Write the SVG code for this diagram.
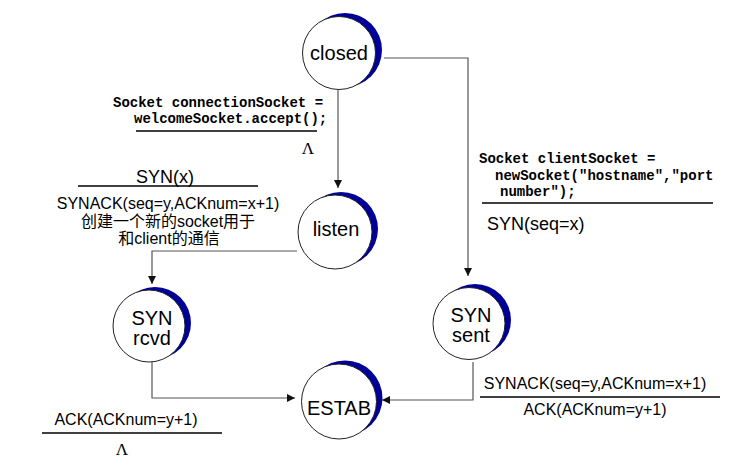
<svg xmlns="http://www.w3.org/2000/svg" width="754" height="473" viewBox="0 0 754 473">
  <defs>
    <marker id="arrow" viewBox="0 0 10 10" refX="10" refY="5" markerWidth="8" markerHeight="8" markerUnits="userSpaceOnUse" orient="auto">
      <path d="M0,0 L10,5 L0,10 z" fill="#111"/>
    </marker>
    <style>
      .shade { fill: #000099; }
      .disc { fill: #fff; stroke: #222; stroke-width: 1; }
      .state { font-family: "Liberation Sans", Arial, sans-serif; font-size: 20px; fill: #000; text-anchor: middle; }
      .lbl { font-family: "Liberation Sans", Arial, "Noto Sans CJK SC", sans-serif; font-size: 16px; fill: #000; }
      .big { font-family: "Liberation Sans", Arial, sans-serif; font-size: 18px; fill: #000; }
      .code { font-family: "Liberation Mono", "Courier New", monospace; font-size: 14px; font-weight: bold; fill: #000; }
      .lam { font-family: "Liberation Serif", "Times New Roman", serif; font-size: 17px; fill: #000; text-anchor: middle; }
      .rule { stroke: #000; stroke-width: 1.3; }
      .edge { fill: none; stroke: #555; stroke-width: 1.2; marker-end: url(#arrow); }
    </style>
  </defs>

  <rect width="754" height="473" fill="#fff"/>

  <!-- transitions -->
  <g id="connectors">
    <path class="edge" d="M338,90 V188"/>
    <path class="edge" d="M384,58 H468 V276"/>
    <path class="edge" d="M297,251 H152 V284"/>
    <path class="edge" d="M152,362 V398 H295"/>
    <path class="edge" d="M473,362 V400 H382"/>
  </g>

  <!-- states -->
  <g id="closed">
    <circle class="shade" cx="345" cy="50" r="37"/>
    <circle class="disc" cx="339" cy="53" r="36.5"/>
    <text class="state" x="339" y="60" font-size="21">closed</text>
  </g>
  <g id="listen">
    <circle class="shade" cx="341" cy="229" r="37"/>
    <circle class="disc" cx="335" cy="232" r="37"/>
    <text class="state" x="336" y="236">listen</text>
  </g>
  <g id="syn-rcvd">
    <circle class="shade" cx="155" cy="323" r="36"/>
    <circle class="disc" cx="149" cy="326" r="36"/>
    <text class="state" x="152" y="325">SYN</text>
    <text class="state" x="152" y="345">rcvd</text>
  </g>
  <g id="syn-sent">
    <circle class="shade" cx="475" cy="320" r="36"/>
    <circle class="disc" cx="469" cy="323.5" r="36"/>
    <text class="state" x="471" y="322">SYN</text>
    <text class="state" x="471" y="342">sent</text>
  </g>
  <g id="estab">
    <circle class="shade" cx="345" cy="398" r="37.5"/>
    <circle class="disc" cx="339" cy="401.5" r="37.5"/>
    <text class="state" x="339" y="415">ESTAB</text>
  </g>

  <!-- transition labels -->
  <g id="label-accept">
    <text class="code" x="113" y="107">Socket connectionSocket =</text>
    <text class="code" x="134" y="123">welcomeSocket.accept();</text>
    <line class="rule" x1="136" y1="131" x2="317" y2="131"/>
    <text class="lam" x="308" y="154">Λ</text>
  </g>
  <g id="label-synx">
    <text class="big" x="165" y="183" text-anchor="middle">SYN(x)</text>
    <line class="rule" x1="78" y1="186" x2="258" y2="186"/>
    <text class="lbl" x="168" y="209" text-anchor="middle" font-size="15.8">SYNACK(seq=y,ACKnum=x+1)</text>
    <text class="lbl" x="168" y="227" text-anchor="middle">创建一个新的socket用于</text>
    <text class="lbl" x="169" y="244" text-anchor="middle">和client的通信</text>
  </g>
  <g id="label-client">
    <text class="code" x="479" y="163">Socket clientSocket =</text>
    <text class="code" x="495" y="180">newSocket("hostname","port</text>
    <text class="code" x="500" y="196">number");</text>
    <line class="rule" x1="482" y1="203" x2="713" y2="203"/>
    <text class="big" x="487" y="230">SYN(seq=x)</text>
  </g>
  <g id="label-synack">
    <text class="lbl" x="595" y="389" text-anchor="middle" font-size="15.8">SYNACK(seq=y,ACKnum=x+1)</text>
    <line class="rule" x1="480" y1="397" x2="720" y2="397"/>
    <text class="lbl" x="595" y="415" text-anchor="middle">ACK(ACKnum=y+1)</text>
  </g>
  <g id="label-ack">
    <text class="lbl" x="126" y="425" text-anchor="middle">ACK(ACKnum=y+1)</text>
    <line class="rule" x1="42" y1="433" x2="222" y2="433"/>
    <text class="lam" x="122" y="455">Λ</text>
  </g>
</svg>
